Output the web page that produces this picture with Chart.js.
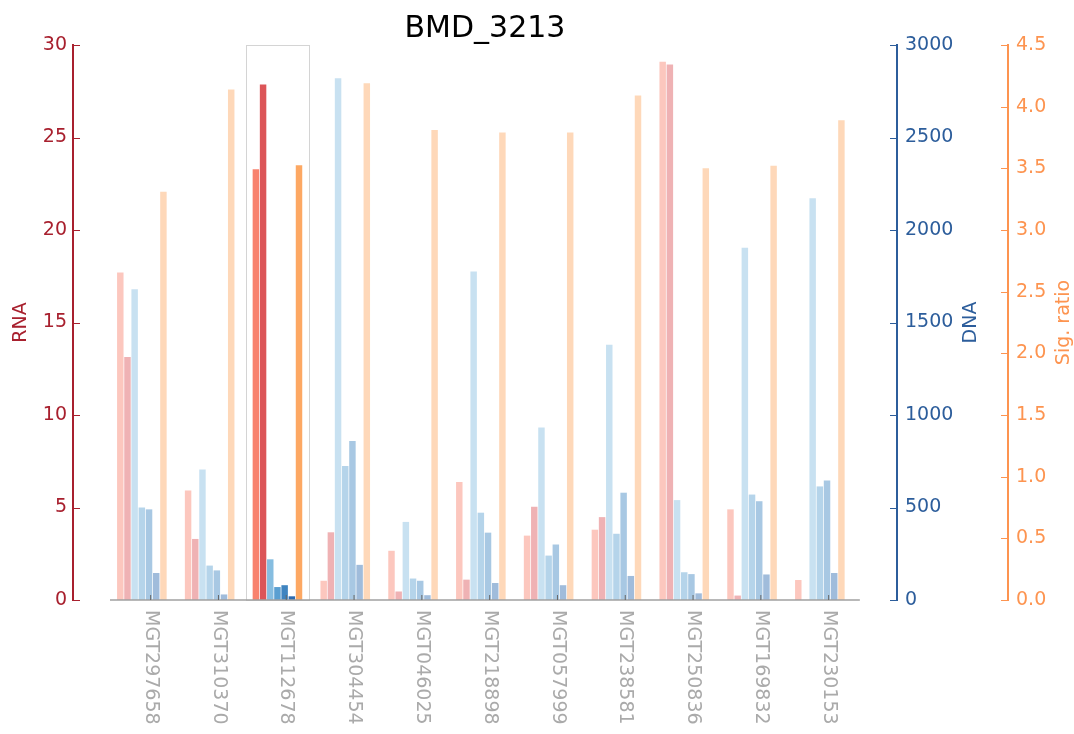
<!doctype html>
<html lang="en">
<head>
  <meta charset="utf-8">
  <title>BMD_3213</title>
  <style>
    * { margin: 0; padding: 0; }
    body { background: #fff; }
    .chartBox { width: 1074px; height: 734px; }
  </style>
</head>
<body>
  <div class="chartBox"><canvas id="myChart"></canvas></div>
  <script src="https://cdn.jsdelivr.net/npm/chart.js/dist/chart.umd.min.js"></script>
  <script>
    // data
    const genes = ['MGT297658', 'MGT310370', 'MGT112678', 'MGT304454', 'MGT046025', 'MGT218898',
      'MGT057999', 'MGT238581', 'MGT250836', 'MGT169832', 'MGT230153'];
    const rna1 = [17.7, 5.92, 23.28, 1.04, 2.66, 6.38, 3.48, 3.8, 29.1, 4.9, 1.08];
    const rna2 = [13.14, 3.3, 27.86, 3.66, 0.46, 1.1, 5.04, 4.48, 28.94, 0.24, 0];
    const dna1 = [1680, 706, 220, 2820, 422, 1776, 932, 1380, 540, 1904, 2172];
    const dna2 = [500, 186, 70, 724, 116, 472, 240, 358, 150, 570, 614];
    const dna3 = [490, 160, 80, 860, 104, 364, 300, 580, 140, 534, 646];
    const dna4 = [146, 30, 20, 190, 26, 92, 80, 130, 36, 138, 146];
    const sigRatio = [3.31, 4.14, 3.525, 4.19, 3.81, 3.79, 3.79, 4.09, 3.5, 3.52, 3.89];
    const highlight = 2; // MGT112678

    const rnaColor = '#a8202e';
    const dnaColor = '#2c5d9b';
    const sigColor = '#fd9450';

    const series = [
      { label: 'RNA 1', values: rna1, axis: 'yRna', rgb: '248,130,110' },
      { label: 'RNA 2', values: rna2, axis: 'yRna', rgb: '220,85,88' },
      { label: 'DNA 1', values: dna1, axis: 'yDna', rgb: '134,189,224' },
      { label: 'DNA 2', values: dna2, axis: 'yDna', rgb: '90,159,209' },
      { label: 'DNA 3', values: dna3, axis: 'yDna', rgb: '63,132,192' },
      { label: 'DNA 4', values: dna4, axis: 'yDna', rgb: '45,107,176' },
      { label: 'Sig. ratio', values: sigRatio, axis: 'ySig', rgb: '253,168,99' }
    ];

    const barColor = (rgb, i) => i === highlight ? 'rgb(' + rgb + ')' : 'rgba(' + rgb + ',0.45)';

    const data = {
      datasets: series.map(s => ({
        label: s.label,
        yAxisID: s.axis,
        data: s.values.map((v, i) => ({ x: i, y: v })),
        backgroundColor: s.values.map((v, i) => barColor(s.rgb, i)),
        categoryPercentage: 0.742,
        barPercentage: 0.9
      }))
    };

    const extras = {
      id: 'extras',
      beforeDatasetsDraw(chart) {
        const { ctx, chartArea: { top, bottom }, scales: { x } } = chart;
        // box around highlighted gene
        ctx.save();
        ctx.strokeStyle = '#d4d4d4';
        ctx.lineWidth = 1;
        const l = x.getPixelForValue(highlight - 0.465);
        const r = x.getPixelForValue(highlight + 0.465);
        ctx.strokeRect(Math.round(l) + 0.5, top + 0.5, Math.round(r - l), bottom - top);
        ctx.restore();
      },
      afterDraw(chart) {
        const { ctx, chartArea: { top, bottom, left, right }, scales } = chart;
        const x = scales.x;
        ctx.save();

        // x axis line
        ctx.strokeStyle = '#a0a0a0';
        ctx.lineWidth = 1.5;
        ctx.beginPath();
        ctx.moveTo(x.getPixelForValue(-0.47), bottom);
        ctx.lineTo(x.getPixelForValue(10.59), bottom);
        ctx.stroke();

        // x ticks and labels
        ctx.font = '19px "DejaVu Sans"';
        genes.forEach((g, i) => {
          const px = x.getPixelForValue(i + 0.13);
          ctx.strokeStyle = '#666';
          ctx.lineWidth = 1;
          ctx.beginPath();
          ctx.moveTo(px, bottom);
          ctx.lineTo(px, bottom - 5);
          ctx.stroke();
          ctx.save();
          ctx.translate(px, bottom + 10);
          ctx.rotate(Math.PI / 2);
          ctx.fillStyle = '#aaaaaa';
          ctx.textAlign = 'left';
          ctx.textBaseline = 'middle';
          ctx.fillText(g, 0, 0);
          ctx.restore();
        });

        // inward y ticks
        const yTicks = (scale, xPos, dir, color) => {
          ctx.strokeStyle = color;
          ctx.lineWidth = 1;
          scale.ticks.forEach(t => {
            const py = Math.round(scale.getPixelForValue(t.value)) + 0.5;
            ctx.beginPath();
            ctx.moveTo(xPos, py);
            ctx.lineTo(xPos + dir * 7, py);
            ctx.stroke();
          });
        };
        yTicks(scales.yRna, left, 1, rnaColor);
        yTicks(scales.yDna, right, -1, dnaColor);
        yTicks(scales.ySig, scales.ySig.left, -1, sigColor);

        // axis titles
        const mid = (top + bottom) / 2;
        const yTitle = (text, xPos, color) => {
          ctx.save();
          ctx.translate(xPos, mid);
          ctx.rotate(-Math.PI / 2);
          ctx.fillStyle = color;
          ctx.textAlign = 'center';
          ctx.textBaseline = 'middle';
          ctx.fillText(text, 0, 0);
          ctx.restore();
        };
        yTitle('RNA', 21, rnaColor);
        yTitle('DNA', 971, dnaColor);
        yTitle('Sig. ratio', 1064, sigColor);

        // chart title
        ctx.font = '30px "DejaVu Sans"';
        ctx.fillStyle = '#000';
        ctx.textAlign = 'center';
        ctx.textBaseline = 'alphabetic';
        ctx.fillText('BMD_3213', (left + right) / 2, 37);
        ctx.restore();
      }
    };

    Chart.defaults.font.family = '"DejaVu Sans"';
    Chart.defaults.font.size = 19;

    const config = {
      type: 'bar',
      data,
      options: {
        responsive: true,
        maintainAspectRatio: false,
        animation: false,
        layout: { padding: { top: 45, bottom: 134, left: 0, right: 0 } },
        plugins: { legend: { display: false }, tooltip: { enabled: false } },
        scales: {
          x: {
            type: 'linear',
            display: false,
            min: -1.0155,
            max: 11.138,
            offset: false,
            bounds: 'data',
            grid: { display: false },
            // one tick per gene so the bar width comes from the gene spacing
            afterBuildTicks(s) { s.ticks = genes.map((g, i) => ({ value: i })); }
          },
          yRna: {
            position: 'left',
            min: 0,
            max: 30,
            ticks: { stepSize: 5, color: rnaColor, padding: 6 },
            grid: { display: false, drawTicks: false },
            border: { display: true, color: rnaColor, width: 2 },
            afterFit(s) { s.width = 73; }
          },
          yDna: {
            position: 'right',
            weight: 0,
            min: 0,
            max: 3000,
            ticks: { stepSize: 500, color: dnaColor, padding: 8, callback: v => String(v) },
            grid: { display: false, drawTicks: false },
            border: { display: true, color: dnaColor, width: 2 },
            afterFit(s) { s.width = 111; }
          },
          ySig: {
            position: 'right',
            weight: 1,
            min: 0,
            max: 4.5,
            ticks: { stepSize: 0.5, color: sigColor, padding: 8, callback: v => v.toFixed(1) },
            grid: { display: false, drawTicks: false },
            border: { display: true, color: sigColor, width: 2 },
            afterFit(s) { s.width = 66; }
          }
        }
      },
      plugins: [extras]
    };

    const myChart = new Chart(document.getElementById('myChart'), config);
  </script>
</body>
</html>
